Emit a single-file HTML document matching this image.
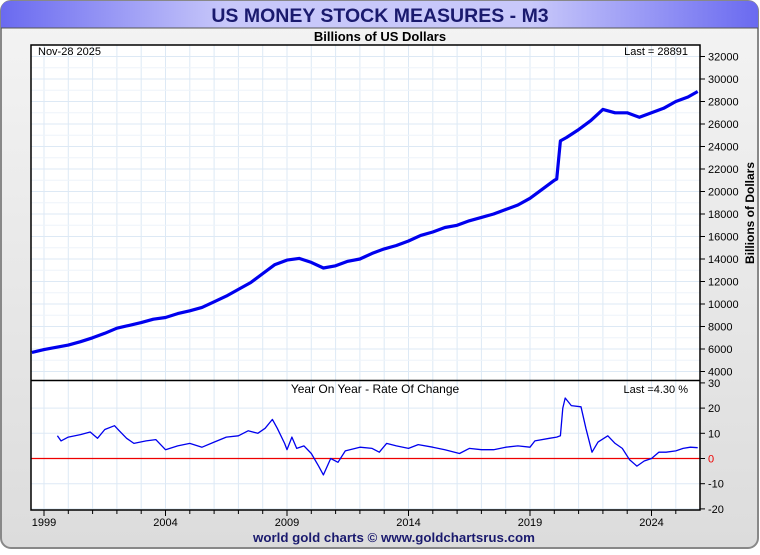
<!DOCTYPE html>
<html><head><meta charset="utf-8"><style>
body{margin:0;width:760px;height:550px;overflow:hidden;background:#fff;font-family:"Liberation Sans",sans-serif}
svg text{font-family:"Liberation Sans",sans-serif}
</style></head><body>
<svg id="chart" width="760" height="550">
<defs>
<linearGradient id="bg" x1="0" y1="0" x2="0" y2="1"><stop offset="0" stop-color="#f4f4f4"/><stop offset="1" stop-color="#dcdcdc"/></linearGradient>
<linearGradient id="tb" x1="0" y1="0" x2="1" y2="0"><stop offset="0" stop-color="#6a6af0"/><stop offset="0.3" stop-color="#c8c8fa"/><stop offset="0.7" stop-color="#c8c8fa"/><stop offset="1" stop-color="#6a6af0"/></linearGradient>
</defs>
<rect x="1" y="1" width="757" height="547" rx="10" fill="url(#bg)" stroke="#888" stroke-width="2"/>
<path d="M1,28 L1,11 Q1,1 11,1 L748,1 Q758,1 758,11 L758,28 Z" fill="url(#tb)"/>
<line x1="1" y1="28" x2="758" y2="28" stroke="#555" stroke-width="1"/>
<text x="380" y="22" text-anchor="middle" font-size="19.5" font-weight="bold" fill="#1a1a6e">US MONEY STOCK MEASURES - M3</text>
<text x="380" y="41" text-anchor="middle" font-size="13" font-weight="bold" fill="#000">Billions of US Dollars</text>
<rect x="31" y="45" width="669" height="465" fill="#fff"/>
<g id="grid"></g>
<g id="marks"></g>
<rect x="31" y="45" width="669" height="465" fill="none" stroke="#000" stroke-width="1.5"/>
<line x1="31" y1="380.5" x2="700" y2="380.5" stroke="#000" stroke-width="1.5"/>
<text x="38" y="55" font-size="11">Nov-28  2025</text>
<text x="688" y="55" font-size="11" text-anchor="end">Last = 28891</text>
<text x="375" y="393" font-size="12" text-anchor="middle">Year On Year - Rate Of Change</text>
<text x="688" y="393" font-size="11" text-anchor="end">Last =4.30 %</text>
<text transform="translate(754,213) rotate(-90)" font-size="12" font-weight="bold" text-anchor="middle">Billions of Dollars</text>
<text x="394" y="542" text-anchor="middle" font-size="13.3" font-weight="bold" fill="#1a1a6e">world gold charts © www.goldchartsrus.com</text>
</svg>
<script>
const m3Dates=[1998.5,1999.0,1999.5,2000.0,2000.5,2001.0,2001.5,2002.0,2002.5,2003.0,2003.5,2004.0,2004.5,2005.0,2005.5,2006.0,2006.5,2007.0,2007.5,2008.0,2008.5,2009.0,2009.5,2010.0,2010.5,2011.0,2011.5,2012.0,2012.5,2013.0,2013.5,2014.0,2014.5,2015.0,2015.5,2016.0,2016.5,2017.0,2017.5,2018.0,2018.5,2019.0,2019.5,2020.0,2020.1,2020.25,2020.5,2021.0,2021.5,2022.0,2022.5,2023.0,2023.5,2024.0,2024.5,2025.0,2025.5,2025.9];
const m3Values=[5700,5950,6150,6350,6650,7000,7400,7850,8100,8350,8650,8800,9150,9400,9700,10200,10700,11300,11900,12700,13500,13900,14050,13700,13200,13400,13800,14000,14500,14900,15200,15600,16100,16400,16800,17000,17400,17700,18000,18400,18800,19400,20200,21000,21100,24500,24800,25500,26300,27300,27000,27000,26600,27000,27400,28000,28400,28891];
const rocDates=[1999.55,1999.7,2000.0,2000.5,2000.9,2001.2,2001.5,2001.9,2002.1,2002.4,2002.7,2003.2,2003.6,2004.0,2004.5,2005.0,2005.5,2006.0,2006.5,2007.0,2007.4,2007.8,2008.1,2008.4,2008.6,2008.9,2009.0,2009.2,2009.4,2009.7,2010.0,2010.3,2010.5,2010.8,2011.1,2011.4,2012.0,2012.5,2012.8,2013.1,2013.5,2014.0,2014.4,2015.0,2015.5,2016.1,2016.5,2017.0,2017.5,2018.0,2018.5,2019.0,2019.2,2019.8,2020.1,2020.25,2020.35,2020.45,2020.7,2021.1,2021.3,2021.55,2021.8,2022.2,2022.5,2022.8,2023.1,2023.4,2023.7,2024.0,2024.3,2024.6,2025.0,2025.3,2025.6,2025.9];
const rocValues=[9,7,8.5,9.5,10.5,8,11.5,13,11,8,6,7,7.5,3.5,5,6,4.5,6.5,8.5,9,11,10,12,15.5,12,6,3.5,8.5,4,5,2,-3,-6.5,0,-1.5,3,4.5,4,2.5,6,5,4,5.5,4.5,3.5,2,4,3.5,3.5,4.5,5,4.5,7,8,8.5,9,20,24,21,20.5,12,2.5,6.5,9,6,4,-0.5,-3,-1,0,2.5,2.5,3,4,4.5,4.3];
const yearTicks=[1999,2004,2009,2014,2019,2024];
const m3Ticks=[4000,6000,8000,10000,12000,14000,16000,18000,20000,22000,24000,26000,28000,30000,32000];
const rocTicks=[-20,-10,0,10,20,30];

const NS="http://www.w3.org/2000/svg";
const xs=t=>44+(t-1999)*24.3;
const ym=v=>56.5+(32000-v)*0.01125;
const yr=v=>458.5-v*2.52;
const svg=document.getElementById('chart');
const grid=document.getElementById('grid');
const marks=document.getElementById('marks');
function mk(tag,a,p){const e=document.createElementNS(NS,tag);for(const k in a)e.setAttribute(k,a[k]);(p||svg).appendChild(e);return e;}

for(let y=1999;y<=2025;y++){
  const x=xs(y);
  const g=mk('line',{x1:x,y1:45,x2:x,y2:510,stroke:'#dde9f5','stroke-width':1},grid);
  
  
  const t=mk('line',{x1:x,y1:510,x2:x,y2:yearTicks.includes(y)?516:514,stroke:'#000'});
  
  
}
yearTicks.forEach(y=>{
  const t=mk('text',{x:xs(y),y:526,'text-anchor':'middle','font-size':11});
  t.textContent=y;
  
  
});
m3Ticks.forEach(v=>{
  const y=ym(v);
  const g=mk('line',{x1:31,y1:y,x2:700,y2:y,stroke:'#dde9f5'},grid);
  
  
  const y2=ym(v+1000);
  if(v<32000){const g2=mk('line',{x1:31,y1:y2,x2:700,y2:y2,stroke:'#eef4fa'},grid);}
  mk('line',{x1:700,y1:y,x2:705,y2:y,stroke:'#000'});
  const t=mk('text',{x:708,y:y+4,'font-size':11});
  t.textContent=v;
  
  
});
rocTicks.forEach(v=>{
  const y=yr(v);
  if(v<30){const g=mk('line',{x1:31,y1:y,x2:700,y2:y,stroke:'#dde9f5'},grid);}
  mk('line',{x1:700,y1:y,x2:705,y2:y,stroke:'#000'});
  const t=mk('text',{x:708,y:y+4,'font-size':11,fill:v===0?'#e00':'#000'});
  t.textContent=v;
  
  
});
const zl=mk('line',{x1:31,y1:yr(0),x2:700,y2:yr(0),stroke:'#e00','stroke-width':1.2},marks);


const m3=mk('polyline',{points:m3Dates.map((d,i)=>xs(d).toFixed(1)+','+ym(m3Values[i]).toFixed(1)).join(' '),fill:'none',stroke:'#0000ee','stroke-width':3.2,'stroke-linejoin':'round'},marks);


const roc=mk('polyline',{points:rocDates.map((d,i)=>xs(d).toFixed(1)+','+yr(rocValues[i]).toFixed(1)).join(' '),fill:'none',stroke:'#0000ee','stroke-width':1.3,'stroke-linejoin':'round'},marks);


</script>
</body></html>
